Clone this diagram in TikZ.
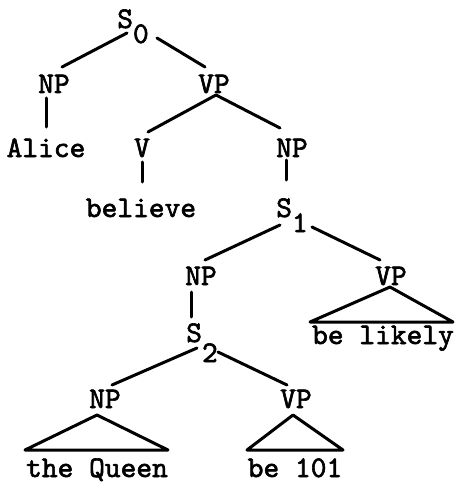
\documentclass[tikz,border=0pt]{standalone}
\usepackage{fontspec}
\newfontfamily\tw{lmmono10-regular.otf}[FakeBold=2]
\usetikzlibrary{calc}
\begin{document}
\begin{tikzpicture}[x=1pt,y=-1pt,
  lab/.style={inner sep=0pt,anchor=base,font=\tw\fontsize{30}{36}\selectfont},
  edge/.style={line width=3pt,line cap=round,line join=round}]
\useasboundingbox (0,0) rectangle (457,484);
% nodes
\node[lab] (s0) at (133,28) {S\raisebox{-15pt}{0}};
\node[lab] (np1) at (54,93) {NP};
\node[lab] (alice) at (46,157) {Alice};
\node[lab] (vp1) at (214,93) {VP};
\node[lab] (v) at (142,157) {V};
\node[lab] (np2) at (292,157) {NP};
\node[lab] (believe) at (141,217) {believe};
\node[lab] (s1) at (292,217) {S\raisebox{-15pt}{1}};
\node[lab] (np3) at (201,285) {NP};
\node[lab] (vp2) at (391,285) {VP};
\node[lab] (likely) at (383,344) {be likely};
\node[lab] (s2) at (202,342) {S\raisebox{-20pt}{2}};
\node[lab] (np4) at (105,408) {NP};
\node[lab] (vp3) at (296,408) {VP};
\node[lab] (queen) at (97,477) {the Queen};
\node[lab] (be101) at (295,477) {be 101};
% connectors
\draw[edge] ($(s0.base)+(-6,5)$) -- ($(np1.base)+(8,-26)$);
\draw[edge] ($(s0.base)+(24,10)$) -- ($(vp1.base)+(-9,-26)$);
\draw[edge] ($(np1.base)+(-8,5)$) -- ($(alice.base)+(0,-30)$);
\draw[edge] ($(vp1.base)+(2,2)$) -- ($(v.base)+(6,-25)$);
\draw[edge] ($(vp1.base)+(2,2)$) -- ($(np2.base)+(-12,-29)$);
\draw[edge] ($(v.base)+(0,5)$) -- ($(believe.base)+(1,-35)$);
\draw[edge] ($(np2.base)+(-6,3)$) -- ($(s1.base)+(-6,-37)$);
\draw[edge] ($(s1.base)+(-12,8)$) -- ($(np3.base)+(4,-25)$);
\draw[edge] ($(s1.base)+(20,10)$) -- ($(vp2.base)+(-11,-25)$);
\draw[edge] ($(np3.base)+(-10,7)$) -- ($(s2.base)+(-11,-25)$);
\draw[edge] ($(vp2.base)+(-1,2)$) -- ($(likely.base)+(-73,-22)$) -- ($(likely.base)+(70,-22)$) -- cycle;
\draw[edge] ($(s2.base)+(-5,6)$) -- ($(np4.base)+(7,-23)$);
\draw[edge] ($(s2.base)+(16,10)$) -- ($(vp3.base)+(-9,-23)$);
\draw[edge] ($(np4.base)+(-8,7)$) -- ($(queen.base)+(-72,-27)$) -- ($(queen.base)+(71,-27)$) -- cycle;
\draw[edge] ($(vp3.base)+(-3,7)$) -- ($(be101.base)+(-48,-27)$) -- ($(be101.base)+(48,-27)$) -- cycle;
\end{tikzpicture}
\end{document}
